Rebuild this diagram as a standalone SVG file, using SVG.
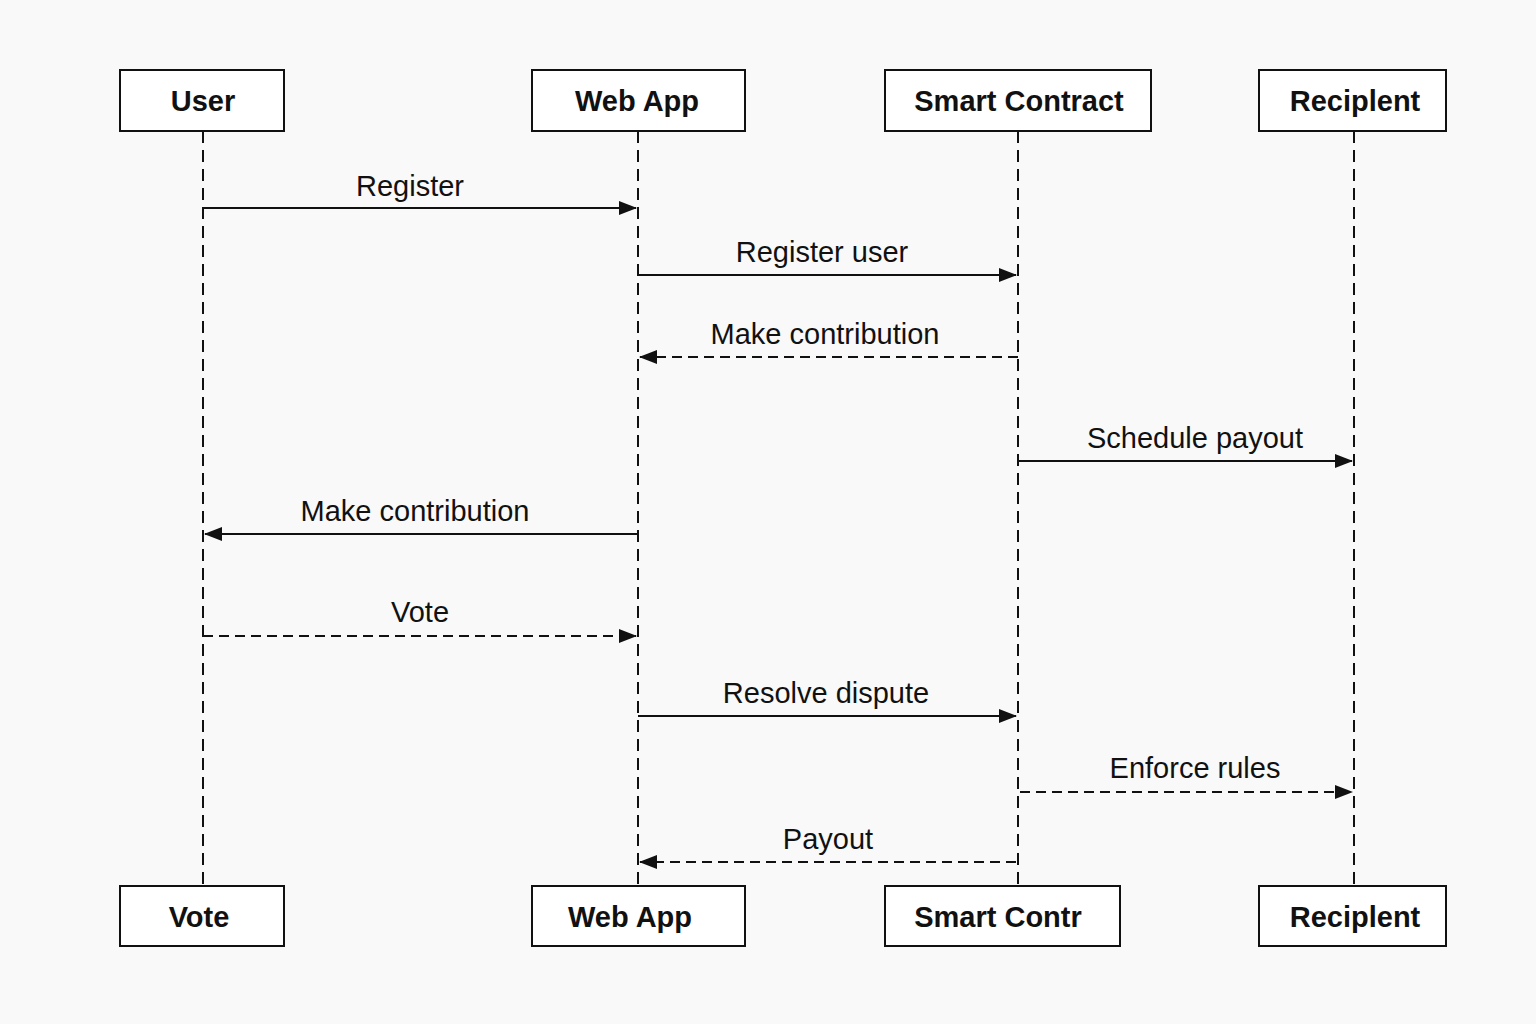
<svg xmlns="http://www.w3.org/2000/svg" width="1536" height="1024" viewBox="0 0 1536 1024">
<style>
.box{fill:#ffffff;stroke:#111;stroke-width:2}
.bt{font-family:"Liberation Sans",Arial,sans-serif;font-weight:bold;font-size:29px;fill:#111;text-anchor:middle}
.lt{font-family:"Liberation Sans",Arial,sans-serif;font-size:29px;fill:#111;text-anchor:middle}
.life{stroke:#111;stroke-width:2;stroke-dasharray:12 7;fill:none}
.msg{stroke:#111;stroke-width:2;fill:none;marker-end:url(#ah)}
.dash{stroke-dasharray:10 6}
</style>
<defs>
<marker id="ah" viewBox="0 0 18 16" refX="17" refY="8" markerWidth="18" markerHeight="16" markerUnits="userSpaceOnUse" orient="auto">
<path d="M0,1 L18,8 L0,15 Z" fill="#111"/>
</marker>
</defs>
<rect width="1536" height="1024" fill="#f9f9f9"/>
<g id="lifelines">
<line class="life" x1="203" y1="131" x2="203" y2="886"/>
<line class="life" x1="638" y1="131" x2="638" y2="886"/>
<line class="life" x1="1018" y1="131" x2="1018" y2="886"/>
<line class="life" x1="1354" y1="131" x2="1354" y2="886"/>
</g>
<g id="user-top"><rect class="box" x="120" y="70" width="164" height="61"/><text class="bt" x="203" y="111">User</text></g>
<g id="webapp-top"><rect class="box" x="532" y="70" width="213" height="61"/><text class="bt" x="637" y="111">Web App</text></g>
<g id="contract-top"><rect class="box" x="885" y="70" width="266" height="61"/><text class="bt" x="1019" y="111">Smart Contract</text></g>
<g id="recipient-top"><rect class="box" x="1259" y="70" width="187" height="61"/><text class="bt" x="1355" y="111">Reciplent</text></g>
<g id="user-bottom"><rect class="box" x="120" y="886" width="164" height="60"/><text class="bt" x="199" y="927">Vote</text></g>
<g id="webapp-bottom"><rect class="box" x="532" y="886" width="213" height="60"/><text class="bt" x="630" y="927">Web App</text></g>
<g id="contract-bottom"><rect class="box" x="885" y="886" width="235" height="60"/><text class="bt" x="998" y="927">Smart Contr</text></g>
<g id="recipient-bottom"><rect class="box" x="1259" y="886" width="187" height="60"/><text class="bt" x="1355" y="927">Reciplent</text></g>
<g id="connectors">
<line class="msg" x1="203" y1="208" x2="636" y2="208"/>
<line class="msg" x1="638" y1="275" x2="1016" y2="275"/>
<line class="msg dash" x1="1018" y1="357" x2="640" y2="357"/>
<line class="msg" x1="1018" y1="461" x2="1352" y2="461"/>
<line class="msg" x1="638" y1="534" x2="205" y2="534"/>
<line class="msg dash" x1="203" y1="636" x2="636" y2="636"/>
<line class="msg" x1="638" y1="716" x2="1016" y2="716"/>
<line class="msg dash" x1="1020" y1="792" x2="1352" y2="792"/>
<line class="msg dash" x1="1016" y1="862" x2="640" y2="862"/>
</g>
<g id="labels">
<text class="lt" x="410" y="196">Register</text>
<text class="lt" x="822" y="262">Register user</text>
<text class="lt" x="825" y="344">Make contribution</text>
<text class="lt" x="1195" y="448">Schedule payout</text>
<text class="lt" x="415" y="521">Make contribution</text>
<text class="lt" x="420" y="622">Vote</text>
<text class="lt" x="826" y="703">Resolve dispute</text>
<text class="lt" x="1195" y="778">Enforce rules</text>
<text class="lt" x="828" y="849">Payout</text>
</g>
</svg>
